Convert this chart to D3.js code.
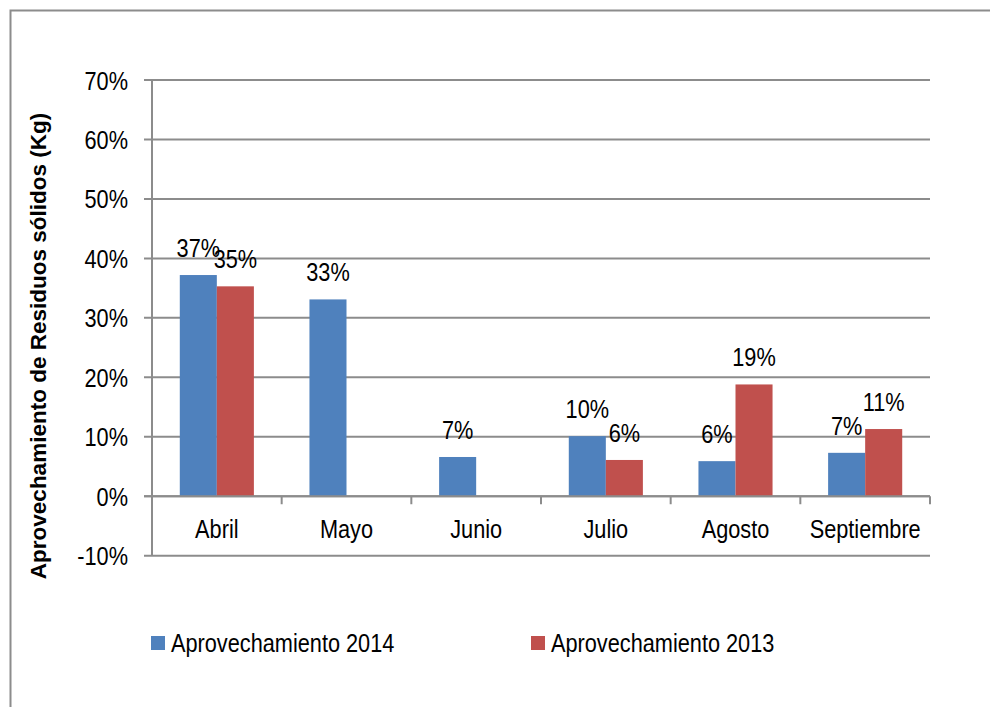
<!DOCTYPE html>
<html>
<head>
<meta charset="utf-8">
<script src="https://cdn.jsdelivr.net/npm/d3@7"></script>
<style>
  html, body { margin: 0; padding: 0; background: #fff; }
  svg { display: block; }
  text { font-family: "Liberation Sans", Arial, sans-serif; fill: #000; }
</style>
</head>
<body>
<div id="chart"></div>
<script>
// Chart data
const months = ['Abril', 'Mayo', 'Junio', 'Julio', 'Agosto', 'Septiembre'];
const seriesNames = ['Aprovechamiento 2014', 'Aprovechamiento 2013'];
const values2014 = [0.372, 0.331, 0.066, 0.101, 0.059, 0.073];
const values2013 = [0.353, null, null, 0.061, 0.188, 0.113];
const yTicks = [-0.1, 0, 0.1, 0.2, 0.3, 0.4, 0.5, 0.6, 0.7];

const COLORS = { 'Aprovechamiento 2014': '#4F81BD', 'Aprovechamiento 2013': '#C0504D' };
const GRID = '#8c8c8c';
const FS = '26.5px';    // label size
const SQUEEZE = 0.82;   // narrow-font look

const W = 990, H = 707;
const PLOT = { left: 152, right: 930, top: 80, bottom: 555.7 };

// percent with a plain hyphen for negatives
const pct = v => (v < 0 ? '-' : '') + Math.round(Math.abs(v) * 100) + '%';

// place a text at (px,py) squeezed horizontally
function place(sel, px, py) {
  sel.attr('transform', function(d, i) {
    const X = typeof px === 'function' ? px(d, i) : px;
    const Y = typeof py === 'function' ? py(d, i) : py;
    return `translate(${X},${Y}) scale(${SQUEEZE},1)`;
  });
}

const svg = d3.select('#chart').append('svg')
  .attr('width', W).attr('height', H);

// Outer chart border (only top and left are visible in frame)
svg.append('rect')
  .attr('x', 10.5).attr('y', 10.5)
  .attr('width', 1000).attr('height', 720)
  .attr('fill', 'none').attr('stroke', '#8c8c8c').attr('stroke-width', 2);

const rows = months.map((m, i) => ({
  month: m,
  vals: [
    { series: seriesNames[0], v: values2014[i] },
    { series: seriesNames[1], v: values2013[i] }
  ]
}));

const x = d3.scaleBand().domain(months).range([PLOT.left, PLOT.right]).padding(0);
const x1 = d3.scaleBand().domain(seriesNames).range([0, x.bandwidth()]).paddingInner(0).paddingOuter(0.75);
const y = d3.scaleLinear().domain([-0.1, 0.7]).range([PLOT.bottom, PLOT.top]);

// Gridlines
svg.append('g')
  .selectAll('line')
  .data(yTicks)
  .join('line')
    .attr('x1', PLOT.left - 8).attr('x2', PLOT.right)
    .attr('y1', d => y(d)).attr('y2', d => y(d))
    .attr('stroke', GRID).attr('stroke-width', 2);

// Y axis line
svg.append('line')
  .attr('x1', PLOT.left).attr('x2', PLOT.left)
  .attr('y1', PLOT.top).attr('y2', PLOT.bottom)
  .attr('stroke', GRID).attr('stroke-width', 2);

// Y tick labels
svg.append('g')
  .selectAll('text')
  .data(yTicks)
  .join('text')
    .attr('dy', '0.36em')
    .attr('text-anchor', 'end')
    .style('font-size', FS)
    .call(place, 128, d => y(d))
    .text(pct);

// Bars
const groups = svg.append('g')
  .selectAll('g')
  .data(rows)
  .join('g')
    .attr('transform', d => `translate(${x(d.month)},0)`);

groups.selectAll('rect')
  .data(d => d.vals.filter(v => v.v != null))
  .join('rect')
    .attr('x', d => x1(d.series))
    .attr('width', x1.bandwidth())
    .attr('y', d => y(Math.max(0, d.v)))
    .attr('height', d => Math.abs(y(d.v) - y(0)))
    .attr('fill', d => COLORS[d.series]);

// Data labels
groups.selectAll('text')
  .data(d => d.vals.filter(v => v.v != null))
  .join('text')
    .attr('text-anchor', 'middle')
    .style('font-size', FS)
    .call(place, d => x1(d.series) + x1.bandwidth() / 2, d => y(d.v) - 18)
    .text(d => pct(d.v));

// X axis (zero line with category dividers)
const xAxis = svg.append('g')
  .attr('transform', `translate(0,${y(0)})`);
xAxis.append('line')
  .attr('x1', PLOT.left - 8).attr('x2', PLOT.right)
  .attr('stroke', GRID).attr('stroke-width', 2);
xAxis.selectAll('.xtick')
  .data(months.slice(1).concat(['end']))
  .join('line')
    .attr('class', 'xtick')
    .attr('x1', d => d === 'end' ? PLOT.right : x(d))
    .attr('x2', d => d === 'end' ? PLOT.right : x(d))
    .attr('y1', 0).attr('y2', 8)
    .attr('stroke', GRID).attr('stroke-width', 2);
xAxis.selectAll('.xlabel')
  .data(months)
  .join('text')
    .attr('class', 'xlabel')
    .attr('text-anchor', 'middle')
    .style('font-size', FS)
    .call(place, d => x(d) + x.bandwidth() / 2, 42)
    .text(d => d);

// Y axis title
svg.append('text')
  .attr('transform', `translate(46,346) rotate(-90)`)
  .attr('text-anchor', 'middle')
  .style('font-size', '22.5px')
  .style('font-weight', 'bold')
  .text('Aprovechamiento de Residuos sólidos (Kg)');

// Legend
const legendX = [151, 531];
const legend = svg.append('g')
  .selectAll('g')
  .data(seriesNames)
  .join('g')
    .attr('transform', (d, i) => `translate(${legendX[i]},636)`);
legend.append('rect')
  .attr('width', 14).attr('height', 14)
  .attr('fill', d => COLORS[d]);
legend.append('text')
  .style('font-size', FS)
  .call(place, 20, 16)
  .text(d => d);
</script>
</body>
</html>
